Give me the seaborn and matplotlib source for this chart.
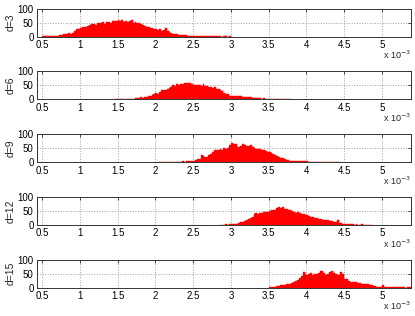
import numpy as np
import pandas as pd
import seaborn as sns
import matplotlib.pyplot as plt

# histogram counts, x in units of 1e-3
labels = ['d=3', 'd=6', 'd=9', 'd=12', 'd=15']
bin_width = 0.025
starts = [0.50, 1.45, 2.05, 2.85, 3.50]

counts_d3 = [1, 2, 2, 1, 3, 2, 3, 4, 3, 5,
             7, 9, 8, 10, 12, 11, 14, 22, 26, 28,
             30, 33, 35, 34, 38, 40, 44, 46, 43, 48,
             50, 49, 52, 47, 51, 53, 50, 55, 57, 56,
             58, 55, 60, 54, 57, 52, 55, 58, 50, 54,
             48, 50, 44, 42, 38, 36, 34, 32, 30, 28,
             26, 24, 27, 22, 25, 31, 20, 15, 12, 10,
             9, 8, 7, 6, 6, 5, 5, 4, 4, 3,
             3, 3, 2, 2, 3, 2, 1, 2, 1, 2,
             1, 1, 2, 1, 1, 0, 1, 1, 0, 1]
counts_d6 = [1, 2, 1, 2, 3, 2, 2, 3, 2, 3,
             3, 4, 5, 6, 7, 6, 9, 10, 12, 13,
             16, 18, 22, 21, 26, 32, 34, 33, 38, 42,
             45, 50, 47, 54, 52, 56, 55, 58, 57, 59,
             60, 54, 52, 53, 50, 51, 48, 56, 49, 47,
             46, 44, 41, 43, 38, 36, 33, 30, 24, 21,
             20, 14, 13, 12, 13, 12, 11, 13, 10, 9,
             8, 8, 7, 6, 5, 5, 4, 4, 3, 4,
             2, 3, 2, 1, 2, 2, 1, 1, 2, 1,
             1, 1, 0, 1]
counts_d9 = [1, 1, 0, 1, 2, 1, 1, 1, 2, 1,
             2, 2, 3, 2, 3, 4, 5, 4, 6, 8,
             10, 12, 24, 22, 20, 18, 26, 30, 38, 42,
             44, 43, 47, 45, 50, 48, 52, 60, 68, 64,
             66, 56, 54, 58, 64, 60, 57, 59, 61, 55,
             52, 47, 48, 46, 44, 42, 40, 38, 36, 33,
             30, 24, 22, 18, 15, 14, 12, 9, 8, 6,
             5, 4, 3, 5, 6, 4, 5, 3, 3, 2,
             2, 2, 1, 2, 1, 1, 2, 1, 1, 1,
             1, 1, 0, 1, 1, 1]
counts_d12 = [1, 1, 1, 2, 1, 2, 3, 4, 3, 5,
              7, 9, 11, 14, 18, 22, 24, 30, 38, 42,
              40, 44, 43, 46, 48, 45, 50, 52, 55, 54,
              60, 65, 62, 64, 58, 56, 55, 52, 50, 46,
              44, 47, 43, 40, 38, 36, 35, 32, 30, 28,
              26, 24, 22, 20, 18, 17, 18, 16, 15, 14,
              12, 10, 16, 8, 7, 5, 4, 3, 3, 2,
              2, 1, 2, 1, 1, 2, 1, 1, 1, 1,
              1]
counts_d15 = [2, 3, 4, 3, 5, 6, 8, 10, 9, 12,
              13, 15, 18, 20, 24, 28, 35, 42, 55, 50,
              46, 48, 52, 44, 50, 49, 54, 58, 60, 52,
              46, 48, 56, 58, 52, 50, 47, 44, 56, 50,
              32, 30, 24, 22, 20, 21, 19, 18, 16, 15,
              14, 15, 12, 11, 9, 7, 5, 4, 3, 3,
              8, 2, 2, 1, 2, 1, 1, 1, 1, 1,
              1, 1, 0, 1, 1, 1]
all_counts = [counts_d3, counts_d6, counts_d9, counts_d12, counts_d15]

xticks = [0.5, 1, 1.5, 2, 2.5, 3, 3.5, 4, 4.5, 5]
yticks = [0, 50, 100]

sns.set_style('white')
plt.rcParams['font.family'] = ['Liberation Sans', 'DejaVu Sans']
plt.rcParams['font.size'] = 7

fig = plt.figure(figsize=(4.15, 3.16), dpi=100)

for i, (lab, start, c) in enumerate(zip(labels, starts, all_counts)):
    bottom_px = 36.7 + 62.75 * i
    ax = fig.add_axes([37 / 415, 1 - bottom_px / 316, 373.7 / 415, 28 / 316])
    edges = list(start + bin_width * np.arange(len(c) + 1))
    df = pd.DataFrame({'x': np.array(edges[:-1]) + bin_width / 2, 'n': c})
    sns.histplot(data=df, x='x', weights='n', bins=edges, color='red',
                 alpha=1, edgecolor='red', linewidth=0.3, ax=ax)
    ax.set_xlim(0.434, 5.38)
    ax.set_ylim(0, 100)
    ax.set_xticks(xticks)
    ax.set_xticklabels(['%g' % t for t in xticks])
    ax.set_yticks(yticks)
    ax.grid(True, linestyle=':', color='#a0a0a0', linewidth=0.7)
    ax.set_axisbelow(True)
    ax.set_xlabel('')
    ax.set_ylabel(lab, fontsize=7.5)
    ax.yaxis.set_label_coords(-0.058, 0.5)
    ax.tick_params(direction='in', length=2.5, width=0.5, top=True, right=True,
                   pad=2.5, colors='black')
    for s in ax.spines.values():
        s.set_color('#333333')
        s.set_linewidth(0.7)
    ax.text(1.0, -0.44, r'x 10$^{-3}$', transform=ax.transAxes,
            ha='right', va='top', fontsize=6.5)

fig.savefig('out.png', dpi=100)
